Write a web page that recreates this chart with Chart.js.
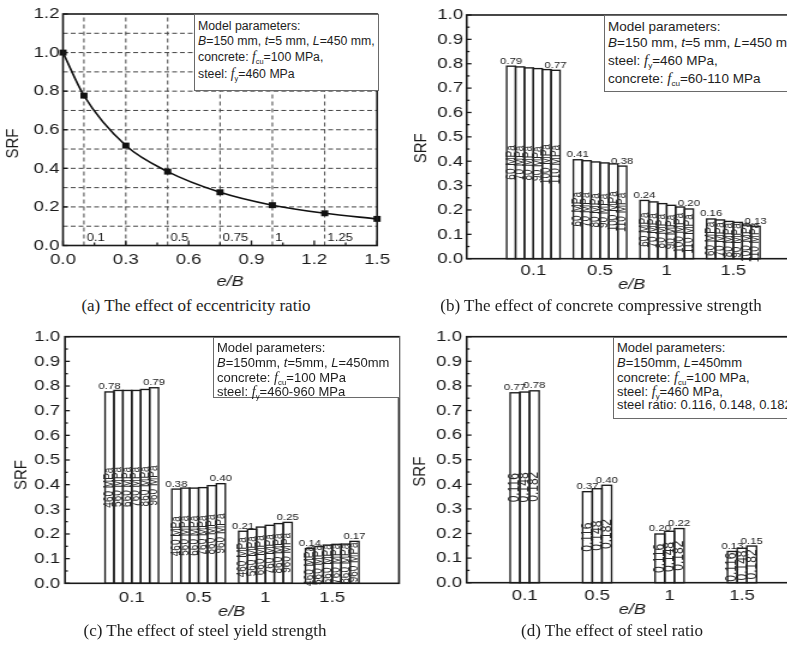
<!DOCTYPE html>
<html><head><meta charset="utf-8">
<script src="https://cdn.jsdelivr.net/npm/chart.js@4.4.1/dist/chart.umd.min.js"></script>
<style>
html,body{margin:0;padding:0;background:#fff;}
body{width:787px;height:645px;overflow:hidden;position:relative;}
canvas.cv{position:absolute;transform-origin:0 0;transform:scaleX(1.2);}
.box{position:absolute;background:#fff;border:1px solid #6a6a6a;box-sizing:border-box;font-family:"Liberation Sans",Arial,sans-serif;color:#1e1e1e;}
.box div{position:absolute;left:3px;white-space:nowrap;line-height:1;}
.box i.f{font-family:"Liberation Serif","Times New Roman",serif;font-size:1.1em;}
.box sub{font-size:0.6em;vertical-align:-0.35em;line-height:0;}
.cap{position:absolute;font-family:"Liberation Serif","Times New Roman",serif;font-size:17px;color:#1e1e1e;white-space:nowrap;transform:translate(-50%,-50%);line-height:1;}
</style></head><body>
<canvas id="ca" class="cv" width="330" height="295" style="left:0;top:0"></canvas>
<canvas id="cb" class="cv" width="345" height="295" style="left:395px;top:0"></canvas>
<canvas id="cc" class="cv" width="340" height="305" style="left:0;top:320px"></canvas>
<canvas id="cd" class="cv" width="345" height="305" style="left:395px;top:320px"></canvas>

<div class="box" style="left:194px;top:14px;width:185px;height:77px;font-size:12.3px;">
  <div style="top:5px">Model parameters:</div>
  <div style="top:19.5px"><i>B</i>=150 mm, <i>t</i>=5 mm, <i>L</i>=450 mm,</div>
  <div style="top:35px">concrete: <i class="f">f</i><sub>cu</sub>=100 MPa,</div>
  <div style="top:52px">steel: <i class="f">f</i><sub>y</sub>=460 MPa</div>
</div>
<div class="box" style="left:604px;top:15px;width:210px;height:77px;font-size:13.5px;">
  <div style="top:3.5px">Model parameters:</div>
  <div style="top:19.5px"><i>B</i>=150 mm, <i>t</i>=5 mm, <i>L</i>=450 mm</div>
  <div style="top:36.5px">steel: <i class="f">f</i><sub>y</sub>=460 MPa,</div>
  <div style="top:54.5px">concrete: <i class="f">f</i><sub>cu</sub>=60-110 MPa</div>
</div>
<div class="box" style="left:213px;top:336.5px;width:187px;height:61px;font-size:13px;">
  <div style="top:3.5px">Model parameters:</div>
  <div style="top:18px"><i>B</i>=150mm, <i>t</i>=5mm, <i>L</i>=450mm</div>
  <div style="top:32px">concrete: <i class="f">f</i><sub>cu</sub>=100 MPa</div>
  <div style="top:46px">steel: <i class="f">f</i><sub>y</sub>=460-960 MPa</div>
</div>
<div class="box" style="left:613px;top:336.5px;width:210px;height:82px;font-size:13px;">
  <div style="top:3.5px">Model parameters:</div>
  <div style="top:18px"><i>B</i>=150mm, <i>L</i>=450mm</div>
  <div style="top:32px">concrete: <i class="f">f</i><sub>cu</sub>=100 MPa,</div>
  <div style="top:46px">steel: <i class="f">f</i><sub>y</sub>=460 MPa,</div>
  <div style="top:60px">steel ratio: 0.116, 0.148, 0.182</div>
</div>

<div class="cap" style="left:196px;top:305px">(a) The effect of eccentricity ratio</div>
<div class="cap" style="left:601px;top:305px">(b) The effect of concrete compressive strength</div>
<div class="cap" style="left:205px;top:630px">(c) The effect of steel yield strength</div>
<div class="cap" style="left:612px;top:630px">(d) The effect of steel ratio</div>

<script>
// ---------------- data ----------------
// (a) eccentricity ratio curve
const eccA = [0, 0.1, 0.3, 0.5, 0.75, 1.0, 1.25, 1.5];
const srfA = [1.0, 0.777, 0.518, 0.383, 0.276, 0.209, 0.167, 0.138];
const xTicksA = [0, 0.3, 0.6, 0.9, 1.2, 1.5];
const xMinorA = [0.15, 0.45, 0.75, 1.05, 1.35];
const yTicksA = [0, 0.2, 0.4, 0.6, 0.8, 1.0, 1.2];
const hGridA = [0.1, 0.2, 0.3, 0.4, 0.5, 0.6, 0.7, 0.8, 0.9, 1.0, 1.1];
const vGridA = [0.1, 0.3, 0.5, 0.75, 1, 1.25];
const vLabelValA = [0.1, 0.5, 0.75, 1, 1.25];
const vLabelTxtA = ['0.1', '0.5', '0.75', '1', '1.25'];

// common e/B groups for bar charts
const groupPos = [1, 2, 3, 4];
const groupLabels = ['0.1', '0.5', '1', '1.5'];
const yTicksBar = [0, 0.1, 0.2, 0.3, 0.4, 0.5, 0.6, 0.7, 0.8, 0.9, 1.0];
const yMinorBar = [0.05, 0.15, 0.25, 0.35, 0.45, 0.55, 0.65, 0.75, 0.85, 0.95];

// (b) concrete strength
const fcuLabels = ['60 MPa', '70 MPa', '80 MPa', '90 MPa', '100 MPa', '110 MPa'];
const srfB60 = [0.790, 0.406, 0.239, 0.163];
const srfB70 = [0.787, 0.402, 0.233, 0.159];
const srfB80 = [0.783, 0.397, 0.226, 0.153];
const srfB90 = [0.780, 0.393, 0.219, 0.149];
const srfB100 = [0.776, 0.389, 0.212, 0.138];
const srfB110 = [0.773, 0.380, 0.204, 0.133];

// (c) steel yield strength
const fyLabels = ['460 MPa', '560 MPa', '660 MPa', '760 MPa', '860 MPa', '960 MPa'];
const srfC460 = [0.776, 0.382, 0.211, 0.141];
const srfC560 = [0.782, 0.386, 0.219, 0.149];
const srfC660 = [0.782, 0.386, 0.228, 0.155];
const srfC760 = [0.782, 0.388, 0.235, 0.158];
const srfC860 = [0.786, 0.396, 0.242, 0.159];
const srfC960 = [0.793, 0.404, 0.247, 0.170];

// (d) steel ratio
const ratioLabels = ['0.116', '0.148', '0.182'];
const srfD116 = [0.772, 0.370, 0.198, 0.127];
const srfD148 = [0.775, 0.382, 0.209, 0.140];
const srfD182 = [0.780, 0.396, 0.220, 0.149];

// ---------------- styling / layout ----------------
const K = 1.2; // horizontal stretch of the chart images
const FAM = '"Liberation Sans", Arial, sans-serif';
const INK = '#1a1a1a';

function seg(ctx, x1, y1, x2, y2) { ctx.beginPath(); ctx.moveTo(x1, y1); ctx.lineTo(x2, y2); ctx.stroke(); }

const frameTicks = {
  id: 'frameTicks',
  afterDraw(chart, args, o) {
    const { ctx, chartArea: a } = chart;
    const xs = chart.scales.x, ys = chart.scales.y;
    ctx.save();
    ctx.strokeStyle = INK;
    ctx.lineWidth = 1.3;
    (o.yMajor || []).forEach(v => { const p = ys.getPixelForValue(v); seg(ctx, a.left, p, a.left + 4, p); });
    (o.yMinor || []).forEach(v => { const p = ys.getPixelForValue(v); seg(ctx, a.left, p, a.left + 2.4, p); });
    (o.xMajor || []).forEach(v => { const p = xs.getPixelForValue(v); seg(ctx, p, a.bottom, p, a.bottom - 5); });
    (o.xMinor || []).forEach(v => { const p = xs.getPixelForValue(v); seg(ctx, p, a.bottom, p, a.bottom - 3); });
    ctx.lineWidth = 1.6;
    ctx.strokeRect(a.left, a.top, a.right - a.left, a.bottom - a.top);
    ctx.fillStyle = INK;
    ctx.textAlign = 'center'; ctx.textBaseline = 'middle';
    ctx.font = '15px ' + FAM;
    ctx.save();
    ctx.translate(o.yTitle[0], o.yTitle[1]); ctx.rotate(-Math.PI / 2);
    ctx.fillText('SRF', 0, 0);
    ctx.restore();
    ctx.font = 'italic 15px ' + FAM;
    ctx.fillText('e/B', o.xTitle[0], o.xTitle[1]);
    ctx.restore();
  }
};

const gridA = {
  id: 'gridA',
  beforeDatasetsDraw(chart) {
    const { ctx, chartArea: a } = chart;
    const xs = chart.scales.x, ys = chart.scales.y;
    ctx.save();
    ctx.strokeStyle = '#444';
    ctx.lineWidth = 1;
    ctx.setLineDash([4, 2.5]);
    hGridA.forEach(v => { const p = ys.getPixelForValue(v); seg(ctx, a.left, p, a.right, p); });
    ctx.setLineDash([4, 3]);
    vGridA.forEach(v => { const p = xs.getPixelForValue(v); seg(ctx, p, a.bottom, p, a.top); });
    ctx.setLineDash([]);
    ctx.fillStyle = INK;
    ctx.font = '11px ' + FAM;
    ctx.textAlign = 'left'; ctx.textBaseline = 'middle';
    vLabelValA.forEach((v, i) => { const p = xs.getPixelForValue(v); ctx.fillText(vLabelTxtA[i], p + 2.2, a.bottom - 7.5); });
    ctx.restore();
  }
};

const barDeco = {
  id: 'barDeco',
  afterDatasetsDraw(chart, args, o) {
    const ctx = chart.ctx;
    const n = chart.data.datasets.length;
    ctx.save();
    chart.data.datasets.forEach((ds, di) => {
      const meta = chart.getDatasetMeta(di);
      meta.data.forEach((bar) => {
        const p = bar.getProps(['x', 'y', 'base', 'width'], true);
        ctx.strokeStyle = INK; ctx.lineWidth = 1.35;
        ctx.strokeRect(p.x - p.width / 2, p.y, p.width, p.base - p.y);
      });
    });
    chart.data.datasets.forEach((ds, di) => {
      const meta = chart.getDatasetMeta(di);
      meta.data.forEach((bar, i) => {
        const p = bar.getProps(['x', 'y', 'base', 'width'], true);
        ctx.fillStyle = '#2a2a2a';
        ctx.font = o.innerFont + 'px ' + FAM;
        ctx.textAlign = 'center'; ctx.textBaseline = 'middle';
        ctx.save();
        ctx.translate(p.x, (p.y + p.base) / 2 + o.innerShift);
        ctx.rotate(-Math.PI / 2);
        ctx.fillText(ds.label, 0, 0);
        ctx.restore();
        if (di === 0 || di === n - 1) {
          ctx.fillStyle = INK;
          ctx.font = '9.5px ' + FAM;
          ctx.textBaseline = 'alphabetic';
          ctx.fillText(ds.data[i].y.toFixed(2), p.x, p.y - 2.5);
        }
      });
    });
    ctx.restore();
  }
};

function commonScaleBits(L, xH) {
  return {
    tickFont: { family: FAM, size: 15.5 },
    yFit: s => { s.width = L; },
    xFit: s => { s.height = xH; }
  };
}

// ---------------- (a) ----------------
(function () {
  const W = 330, H = 295, L = 63 / K, R = 378 / K, T = 14, B = 245.5;
  const c = commonScaleBits(L, H - B);
  new Chart(document.getElementById('ca'), {
    type: 'line',
    data: {
      datasets: [{
        data: eccA.map((x, i) => ({ x: x, y: srfA[i] })),
        borderColor: '#111', borderWidth: 1.6,
        pointStyle: 'rect', pointRadius: 4.2, pointBackgroundColor: '#111', pointBorderWidth: 0,
        cubicInterpolationMode: 'monotone', clip: false
      }]
    },
    options: {
      responsive: false, animation: false, devicePixelRatio: 1,
      layout: { padding: { top: T, right: W - R, left: 0, bottom: 0 } },
      plugins: {
        legend: { display: false }, tooltip: { enabled: false },
        frameTicks: { xMajor: xTicksA, xMinor: xMinorA, yMajor: yTicksA, yMinor: [], yTitle: [13.3 / K, 143.5], xTitle: [230 / K, 282] }
      },
      scales: {
        x: {
          type: 'linear', min: 0, max: 1.5,
          afterBuildTicks: s => { s.ticks = xTicksA.map(v => ({ value: v })); },
          ticks: { font: c.tickFont, color: INK, padding: 5, maxRotation: 0, autoSkip: false, callback: v => v.toFixed(1) },
          grid: { display: false, drawTicks: false }, border: { display: false },
          afterFit: c.xFit
        },
        y: {
          type: 'linear', min: 0, max: 1.2,
          afterBuildTicks: s => { s.ticks = yTicksA.map(v => ({ value: v })); },
          ticks: { font: c.tickFont, color: INK, padding: 3, callback: v => v.toFixed(1) },
          grid: { display: false, drawTicks: false }, border: { display: false },
          afterFit: c.yFit
        }
      }
    },
    plugins: [gridA, frameTicks]
  });
})();

// ---------------- bar charts ----------------
function barChart(id, cfg) {
  const c = commonScaleBits(cfg.L, cfg.H - cfg.B);
  const datasets = cfg.labels.map((lab, i) => ({
    label: lab,
    data: groupPos.map((p, j) => ({ x: p, y: cfg.values[i][j] })),
    backgroundColor: '#ffffff', borderWidth: 0,
    categoryPercentage: cfg.catPct, barPercentage: 1
  }));
  new Chart(document.getElementById(id), {
    type: 'bar',
    data: { datasets: datasets },
    options: {
      responsive: false, animation: false, devicePixelRatio: 1,
      layout: { padding: { top: cfg.T, right: cfg.W - cfg.R, left: 0, bottom: 0 } },
      plugins: {
        legend: { display: false }, tooltip: { enabled: false },
        frameTicks: { yMajor: yTicksBar, yMinor: yMinorBar, xMajor: [], xMinor: [], yTitle: cfg.yTitle, xTitle: cfg.xTitle },
        barDeco: { innerFont: cfg.innerFont, innerShift: cfg.innerShift }
      },
      scales: {
        x: {
          type: 'linear', min: cfg.xMin, max: cfg.xMax, offset: false,
          afterBuildTicks: s => { s.ticks = groupPos.map(v => ({ value: v })); },
          ticks: { font: c.tickFont, color: INK, padding: cfg.xPad, maxRotation: 0, autoSkip: false, callback: (v, i) => groupLabels[i] },
          grid: { display: false, drawTicks: false }, border: { display: false },
          afterFit: c.xFit
        },
        y: {
          type: 'linear', min: 0, max: 1.0,
          afterBuildTicks: s => { s.ticks = yTicksBar.map(v => ({ value: v })); },
          ticks: { font: c.tickFont, color: INK, padding: cfg.yPad, callback: v => v.toFixed(1) },
          grid: { display: false, drawTicks: false }, border: { display: false },
          afterFit: c.yFit
        }
      }
    },
    plugins: [barDeco, frameTicks]
  });
}

barChart('cb', {
  labels: fcuLabels, values: [srfB60, srfB70, srfB80, srfB90, srfB100, srfB110],
  W: 345, H: 295, L: (466.7 - 395) / K, R: (800 - 395) / K, T: 15, B: 258.7,
  xMin: 0, xMax: 5, catPct: 0.8, xPad: 3, yPad: 3, innerFont: 10, innerShift: 0,
  yTitle: [(421.7 - 395) / K, 148.3], xTitle: [(631.7 - 395) / K, 285]
});
barChart('cc', {
  labels: fyLabels, values: [srfC460, srfC560, srfC660, srfC760, srfC860, srfC960],
  W: 340, H: 305, L: 65 / K, R: 399 / K, T: 16.7, B: 263.3,
  xMin: 0, xMax: 5, catPct: 0.8, xPad: 5, yPad: 4, innerFont: 10, innerShift: 0,
  yTitle: [21.7 / K, 155], xTitle: [231.7 / K, 291.7]
});
barChart('cd', {
  labels: ratioLabels, values: [srfD116, srfD148, srfD182],
  W: 345, H: 305, L: (466.7 - 395) / K, R: (800 - 395) / K, T: 16.7, B: 262.7,
  xMin: 0.2, xMax: 4.8, catPct: 0.4, xPad: 4, yPad: 4, innerFont: 12, innerShift: 0,
  yTitle: [(420 - 395) / K, 151.7], xTitle: [(632.3 - 395) / K, 290]
});
</script>
</body></html>
